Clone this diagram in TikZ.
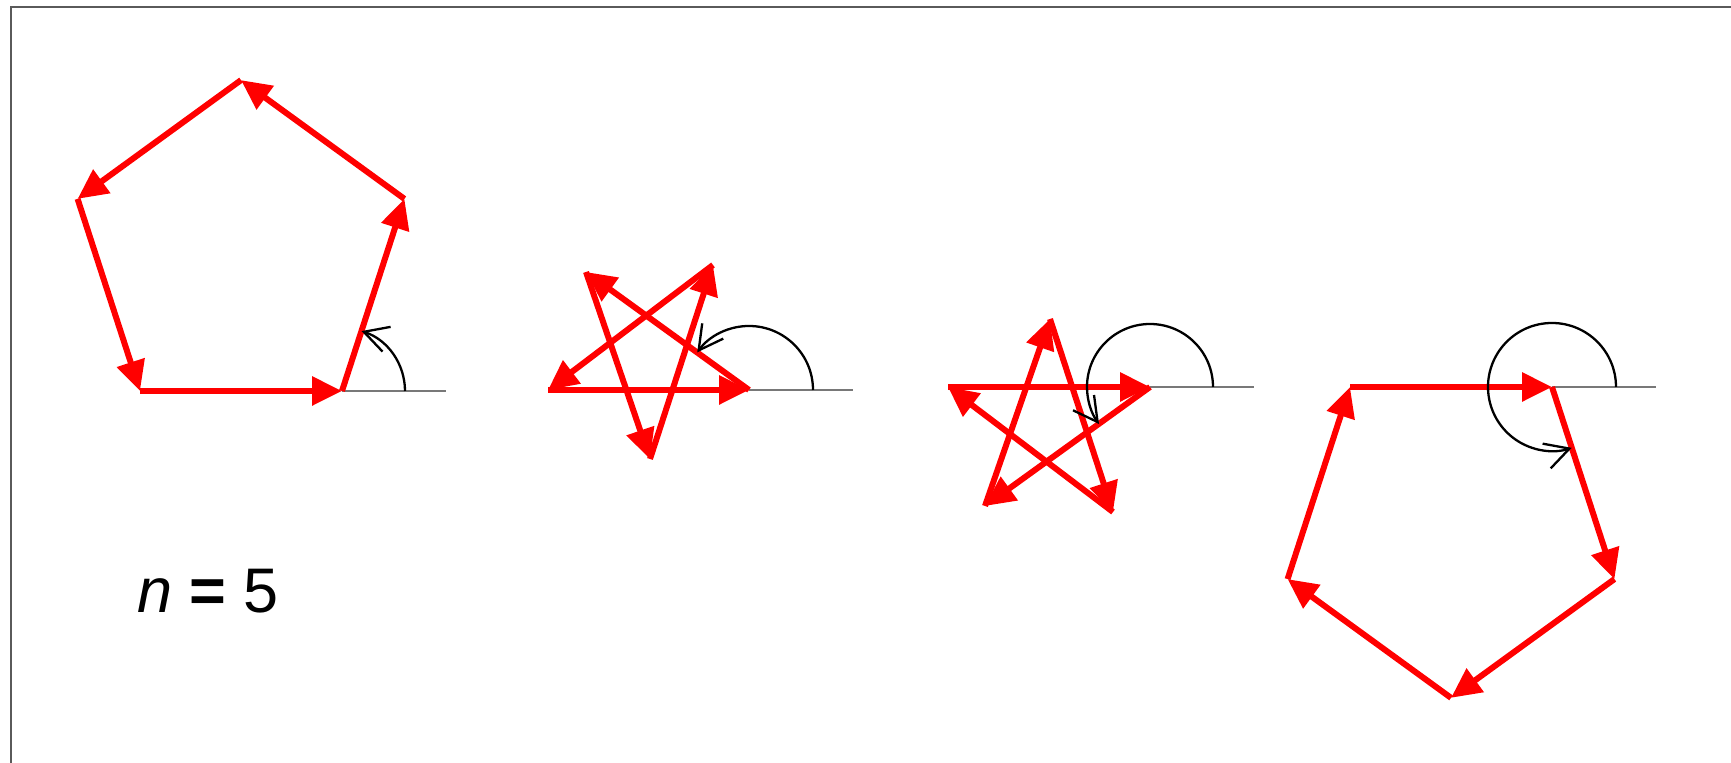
\documentclass[tikz,border=0pt]{standalone}
\usepackage{fontspec}
\setmainfont{Liberation Sans}
\usetikzlibrary{arrows.meta}
\definecolor{framegray}{RGB}{90,90,90}
\definecolor{refgray}{RGB}{120,120,120}
\tikzset{
  edge/.style={red, line width=3pt, -{Triangle[length=15pt,width=14pt]}},
  turn/.style={black, line width=1.15pt, -{Straight Barb[length=12pt,width=13pt]}},
  refline/.style={refgray, line width=0.8pt},
  framestyle/.style={framegray, line width=1pt}
}
\begin{document}
\begin{tikzpicture}[x=0.5pt,y=0.5pt]
\useasboundingbox (0,0) rectangle (1731,763);
% frame (top and left edges)
\coordinate (fl) at (11,0);
\coordinate (fc) at (11,755.5);
\coordinate (fr) at (1731,755.5);
\draw[framestyle] (fl) -- (fc) -- (fr);

% ---------- polygon 1: turn 72 ----------
\coordinate (a0) at (140,372);
\path (a0) ++(0:202) coordinate (a1);
\path (a1) ++(72:202) coordinate (a2);
\path (a2) ++(144:202) coordinate (a3);
\path (a3) ++(216:202) coordinate (a4);
\path (a1) ++(104,0) coordinate (ar);
\draw[refline] (a1) -- (ar);
\draw[edge] (a0) -- (a1);
\draw[edge] (a1) -- (a2);
\draw[edge] (a2) -- (a3);
\draw[edge] (a3) -- (a4);
\draw[edge] (a4) -- (a0);
\draw[turn] ([xshift=31.5pt]a1) arc[start angle=0,end angle=72,radius=31.5pt];

% ---------- star 2: turn 144 ----------
\coordinate (b0) at (548,373);
\coordinate (b1) at (749,373);
\coordinate (b2) at (586,491);
\coordinate (b3) at (650,304);
\coordinate (b4) at (713,498);
\path (b1) ++(104,0) coordinate (br);
\draw[refline] (b1) -- (br);
\draw[edge] (b0) -- (b1);
\draw[edge] (b1) -- (b2);
\draw[edge] (b2) -- (b3);
\draw[edge] (b3) -- (b4);
\draw[edge] (b4) -- (b0);
\draw[turn] ([xshift=32pt]b1) arc[start angle=0,end angle=144,radius=32pt];

% ---------- star 3: turn 216 ----------
\coordinate (c0) at (948,376);
\coordinate (c1) at (1150,376);
\coordinate (c2) at (985,257);
\coordinate (c3) at (1050,444);
\coordinate (c4) at (1113,251);
\path (c1) ++(104,0) coordinate (cr);
\draw[refline] (c1) -- (cr);
\draw[edge] (c0) -- (c1);
\draw[edge] (c1) -- (c2);
\draw[edge] (c2) -- (c3);
\draw[edge] (c3) -- (c4);
\draw[edge] (c4) -- (c0);
\draw[turn] ([xshift=31.5pt]c1) arc[start angle=0,end angle=216,radius=31.5pt];

% ---------- polygon 4: turn 288 ----------
\coordinate (d0) at (1350,376);
\path (d0) ++(0:202) coordinate (d1);
\path (d1) ++(288:202) coordinate (d2);
\path (d2) ++(216:202) coordinate (d3);
\path (d3) ++(144:202) coordinate (d4);
\path (d1) ++(104,0) coordinate (dr);
\draw[refline] (d1) -- (dr);
\draw[edge] (d0) -- (d1);
\draw[edge] (d1) -- (d2);
\draw[edge] (d2) -- (d3);
\draw[edge] (d3) -- (d4);
\draw[edge] (d4) -- (d0);
\draw[turn] ([xshift=32pt]d1) arc[start angle=0,end angle=288,radius=32pt];

% label
\node[inner sep=0pt, font=\fontsize{31.5}{36}\selectfont] (lbl) at (208,172) {\textit{n} \textbf{=} 5};
\end{tikzpicture}
\end{document}
